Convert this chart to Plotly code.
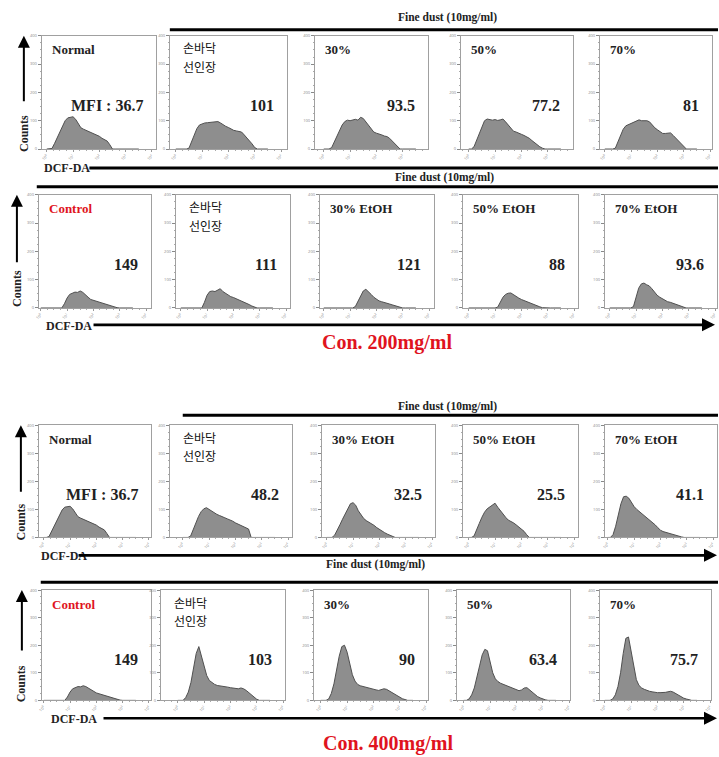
import plotly.graph_objects as go

W, H = 719, 757

# ---------------- data ----------------
# shared x grid: log10 of DCF-DA fluorescence (decades 10^0 .. 10^3.5)
LOG_GRID = [0.0, 0.1, 0.2, 0.3, 0.4, 0.5, 0.6, 0.7, 0.8, 0.9,
            1.0, 1.1, 1.2, 1.3, 1.4, 1.5, 1.6, 1.7, 1.8, 1.9,
            2.0, 2.1, 2.2, 2.3, 2.4, 2.5, 2.6, 2.7, 2.8, 2.9,
            3.0, 3.1, 3.2, 3.3, 3.4, 3.5]
DECADE_TICKS = [0, 1, 2, 3, 4]
DECADE_LABELS = ["10<sup>0</sup>", "10<sup>1</sup>", "10<sup>2</sup>", "10<sup>3</sup>", "10<sup>4</sup>"]
COUNT_TICKS = [0, 100, 200, 300, 400]

# Row 1 : Con. 200, fine dust, extracts
R1_NORMAL = [0, 0, 2, 20, 40, 60, 80, 100, 110, 113, 114, 105, 88, 75, 70, 66, 62, 58, 54, 50,
             45, 38, 33, 28, 15, 0, 0, 0, 0, 0, 0, 0, 0, 0, 0, 0]
R1_SONBADAK = [0, 0, 0, 0, 0, 3, 25, 50, 72, 85, 89, 92, 93, 94, 95, 96, 97, 92, 85, 80,
               76, 70, 66, 64, 62, 60, 50, 40, 30, 18, 5, 0, 0, 0, 0, 0]
R1_30 = [0, 0, 0, 5, 25, 45, 65, 85, 97, 102, 100, 103, 105, 102, 112, 108, 95, 85, 72, 60,
         56, 54, 50, 46, 44, 38, 28, 18, 8, 0, 0, 0, 0, 0, 0, 0]
R1_50 = [0, 0, 8, 30, 55, 80, 100, 106, 104, 102, 104, 101, 103, 106, 96, 85, 72, 63, 60, 55,
         52, 48, 44, 38, 30, 22, 14, 8, 3, 0, 0, 0, 0, 0, 0, 0]
R1_70 = [0, 0, 0, 0, 3, 25, 50, 70, 82, 86, 90, 95, 100, 103, 100, 101, 100, 96, 85, 75,
         68, 60, 55, 55, 57, 57, 48, 38, 28, 18, 8, 0, 0, 0, 0, 0]

# Row 2 : Con. 200, EtOH extracts
R2_CONTROL = [0, 0, 0, 0, 0, 0, 0, 0, 0, 15, 35, 48, 53, 56, 55, 60, 55, 48, 38, 30,
              27, 24, 21, 18, 14, 11, 8, 5, 3, 1, 0, 0, 0, 0, 0, 0]
R2_SONBADAK = [0, 0, 0, 0, 0, 0, 0, 0, 0, 20, 45, 58, 60, 58, 63, 68, 58, 52, 45, 40,
               37, 33, 30, 26, 22, 17, 12, 7, 3, 0, 0, 0, 0, 0, 0, 0]
R2_30 = [0, 0, 0, 0, 0, 0, 0, 0, 0, 0, 0, 0, 5, 25, 45, 60, 66, 58, 48, 38,
         30, 25, 22, 20, 17, 14, 11, 8, 5, 2, 0, 0, 0, 0, 0, 0]
R2_50 = [0, 0, 0, 0, 0, 0, 0, 0, 0, 0, 0, 3, 20, 38, 48, 52, 53, 46, 40, 35,
         30, 26, 22, 18, 14, 10, 7, 4, 1, 0, 0, 0, 0, 0, 0, 0]
R2_70 = [0, 0, 0, 0, 0, 0, 0, 0, 0, 5, 35, 70, 85, 88, 82, 78, 68, 55, 45, 38,
         32, 27, 22, 20, 17, 14, 10, 6, 3, 0, 0, 0, 0, 0, 0, 0]

# Row 3 : Con. 400, EtOH extracts
R3_NORMAL = [0, 0, 3, 22, 42, 62, 82, 98, 108, 110, 111, 102, 86, 74, 69, 65, 61, 57, 53, 49,
             44, 37, 32, 27, 14, 0, 0, 0, 0, 0, 0, 0, 0, 0, 0, 0]
R3_SONBADAK = [0, 0, 0, 5, 30, 55, 75, 92, 102, 106, 100, 92, 88, 82, 78, 75, 70, 66, 63, 58,
               52, 48, 42, 40, 36, 30, 0, 0, 0, 0, 0, 0, 0, 0, 0, 0]
R3_30 = [0, 0, 0, 8, 25, 45, 65, 85, 105, 120, 124, 115, 95, 80, 68, 60, 55, 50, 43, 35,
         28, 22, 17, 12, 8, 4, 0, 0, 0, 0, 0, 0, 0, 0, 0, 0]
R3_50 = [0, 0, 5, 25, 50, 72, 90, 102, 108, 115, 122, 108, 95, 82, 72, 62, 58, 52, 45, 38,
         32, 22, 10, 0, 0, 0, 0, 0, 0, 0, 0, 0, 0, 0, 0, 0]
R3_70 = [0, 0, 10, 40, 80, 120, 145, 147, 140, 125, 110, 100, 92, 85, 78, 70, 63, 55, 45, 35,
         26, 21, 18, 15, 12, 9, 6, 4, 2, 0, 0, 0, 0, 0, 0, 0]

# Row 4 : Con. 400, fine dust, extracts
R4_CONTROL = [0, 0, 0, 0, 0, 0, 0, 0, 0, 12, 30, 42, 47, 50, 49, 53, 50, 44, 36, 30,
              27, 24, 21, 17, 14, 11, 8, 5, 3, 1, 0, 0, 0, 0, 0, 0]
R4_SONBADAK = [0, 0, 0, 10, 30, 65, 120, 170, 195, 160, 118, 90, 72, 64, 58, 54, 53, 51, 50, 48,
               46, 44, 42, 42, 45, 42, 36, 28, 18, 10, 4, 0, 0, 0, 0, 0]
R4_30 = [0, 0, 0, 5, 25, 60, 110, 160, 195, 200, 175, 130, 93, 70, 58, 53, 50, 48, 45, 42,
         40, 38, 36, 38, 42, 40, 34, 28, 22, 16, 10, 6, 3, 0, 0, 0]
R4_50 = [0, 0, 5, 20, 45, 80, 125, 165, 185, 180, 140, 100, 78, 68, 62, 58, 55, 50, 45, 42,
         38, 35, 38, 45, 46, 38, 28, 20, 14, 9, 5, 2, 0, 0, 0, 0]
R4_70 = [0, 0, 0, 5, 20, 50, 100, 170, 225, 230, 180, 118, 75, 54, 45, 40, 36, 33, 31, 29,
         28, 28, 28, 29, 31, 33, 30, 24, 18, 13, 8, 5, 2, 0, 0, 0]

ROW_SERIES = [
    [R1_NORMAL, R1_SONBADAK, R1_30, R1_50, R1_70],
    [R2_CONTROL, R2_SONBADAK, R2_30, R2_50, R2_70],
    [R3_NORMAL, R3_SONBADAK, R3_30, R3_50, R3_70],
    [R4_CONTROL, R4_SONBADAK, R4_30, R4_50, R4_70],
]
ROW_NAMES = [
    ["Normal", "손바닥<br>선인장", "30%", "50%", "70%"],
    ["Control", "손바닥<br>선인장", "30% EtOH", "50% EtOH", "70% EtOH"],
    ["Normal", "손바닥<br>선인장", "30% EtOH", "50% EtOH", "70% EtOH"],
    ["Control", "손바닥<br>선인장", "30%", "50%", "70%"],
]
ROW_MFI = [
    ["MFI : 36.7", "101", "93.5", "77.2", "81"],
    ["149", "111", "121", "88", "93.6"],
    ["MFI : 36.7", "48.2", "32.5", "25.5", "41.1"],
    ["149", "103", "90", "63.4", "75.7"],
]
FINE_DUST = "Fine dust (10mg/ml)"
CONC_LABELS = ["Con. 200mg/ml", "Con. 400mg/ml"]

# ---------------- layout geometry (pixels) ----------------
PANEL_LEFT = [[38, 167, 313, 460, 600], [35, 173, 318, 462, 605],
              [35, 167, 320, 462, 605], [38, 158, 312, 456, 600]]
PANEL_RIGHT = [[153, 285, 427, 573, 713], [148, 288, 433, 578, 718],
               [148, 290, 434, 578, 718], [148, 283, 427, 570, 712]]
# pixel position of the 10^0 tick inside each panel
TICK0 = [[43, 173, 322, 468, 605], [37, 178, 322, 468, 610],
         [40, 180, 325, 468, 608], [40, 175, 319, 463, 605]]
DECADE_PX = 26.5
PANEL_TOP = [33, 193, 425, 591]
PANEL_BOTTOM = [147, 307, 538, 702]


def X(px):
    return px / W


def Y(py):
    return 1 - py / H


SERIF = "Liberation Serif, Times New Roman, serif"
KR = "Noto Sans CJK KR, sans-serif"
RED = "#e0141e"
FRAME = "#a0a0a0"

fig = go.Figure()
annotations = []
shapes = []

for r in range(4):
    for c in range(5):
        n = r * 5 + c + 1
        sfx = "" if n == 1 else str(n)
        left, right, t0 = PANEL_LEFT[r][c], PANEL_RIGHT[r][c], TICK0[r][c]
        fig.add_trace(go.Scatter(
            x=LOG_GRID, y=ROW_SERIES[r][c], mode="lines",
            line=dict(color="#505050", width=1), fill="tozeroy",
            fillcolor="#8e8e8e", xaxis="x" + sfx, yaxis="y" + sfx,
            showlegend=False, hoverinfo="skip"))
        fig.layout["xaxis" + sfx] = dict(
            domain=[X(left), X(right)],
            anchor="y" + sfx,
            range=[(left - t0) / DECADE_PX, (right - t0) / DECADE_PX],
            tickvals=DECADE_TICKS, ticktext=DECADE_LABELS,
            tickfont=dict(size=4, color="#888"), tickangle=-45,
            ticks="outside", ticklen=2, tickcolor="#999",
            minor=dict(ticks="outside", ticklen=1, dtick=0.25, tickcolor="#aaa"),
            showline=True, mirror=True, linecolor=FRAME, linewidth=1,
            showgrid=False, zeroline=False, fixedrange=True)
        fig.layout["yaxis" + sfx] = dict(
            domain=[Y(PANEL_BOTTOM[r]), Y(PANEL_TOP[r])],
            anchor="x" + sfx, range=[0, 400],
            tickvals=COUNT_TICKS, ticktext=[str(v) for v in COUNT_TICKS],
            tickfont=dict(size=4, color="#888"),
            ticks="outside", ticklen=3, tickcolor="#888",
            minor=dict(ticks="outside", ticklen=1, dtick=25, tickcolor="#aaa"),
            showline=True, mirror=True, linecolor=FRAME, linewidth=1,
            showgrid=False, zeroline=False, fixedrange=True)

        name = ROW_NAMES[r][c]
        if "<br>" in name:
            for k, part in enumerate(name.split("<br>")):
                annotations.append(dict(
                    text=part, x=X(left + 11), y=Y(PANEL_TOP[r] + 12 + 19 * k),
                    xref="paper", yref="paper", xanchor="left", yanchor="middle",
                    showarrow=False,
                    font=dict(family=KR, size=12, color="#111")))
        else:
            annotations.append(dict(
                text="<b>" + name + "</b>", x=X(left + 8),
                y=Y(PANEL_TOP[r] + 14),
                xref="paper", yref="paper", xanchor="left", yanchor="middle",
                showarrow=False,
                font=dict(family=SERIF, size=13,
                          color=RED if name == "Control" else "#222")))
        annotations.append(dict(
            text="<b>" + ROW_MFI[r][c] + "</b>", x=X(right - 11),
            y=Y(PANEL_TOP[r] + 70),
            xref="paper", yref="paper", xanchor="right", yanchor="middle",
            showarrow=False, font=dict(family=SERIF, size=16, color="#222")))

# Counts arrows and labels
COUNTS_X = [20, 13, 17, 18]
COUNTS_HEAD = [33, 193, 425, 591]
COUNTS_TAIL = [100, 262, 493, 653]
COUNTS_MID = [131, 287, 522, 685]
for r in range(4):
    annotations.append(dict(
        text="", x=X(COUNTS_X[r]), y=Y(COUNTS_HEAD[r]), xref="paper", yref="paper",
        showarrow=True, ax=0, ay=COUNTS_TAIL[r] - COUNTS_HEAD[r],
        arrowhead=2, arrowsize=1.2, arrowwidth=2, arrowcolor="#000"))
    annotations.append(dict(
        text="<b>Counts</b>", x=X(COUNTS_X[r]), y=Y(COUNTS_MID[r]),
        xref="paper", yref="paper", textangle=-90, showarrow=False,
        xanchor="center", yanchor="middle",
        font=dict(family=SERIF, size=12, color="#222")))

# DCF-DA labels and x arrows
DCF_X = [38, 40, 35, 45]
DCF_Y = [166, 325, 557, 721]
DCF_LINE_START = [86, 93, 78, 103]
DCF_LINE_END = [719, 716, 718, 718]
for r in range(4):
    annotations.append(dict(
        text="<b>DCF-DA</b>", x=X(DCF_X[r]), y=Y(DCF_Y[r]), xref="paper", yref="paper",
        xanchor="left", yanchor="middle", showarrow=False,
        font=dict(family=SERIF, size=12, color="#222")))
    if r == 0:
        shapes.append(dict(type="line", xref="paper", yref="paper",
                           x0=X(DCF_LINE_START[r]), x1=X(DCF_LINE_END[r]),
                           y0=Y(DCF_Y[r]), y1=Y(DCF_Y[r]),
                           line=dict(color="#000", width=3)))
    else:
        annotations.append(dict(
            text="", x=X(DCF_LINE_END[r]), y=Y(DCF_Y[r] - 1), xref="paper", yref="paper",
            showarrow=True, ax=-(DCF_LINE_END[r] - DCF_LINE_START[r]), ay=0,
            arrowhead=2, arrowsize=1, arrowwidth=2.6, arrowcolor="#000"))

# Fine dust brackets (top lines) and labels
FD_LINE_Y = [27, 185, 415, 583]
FD_LINE_START = [167, 33, 180, 37]
FD_LABEL_X = [447, 444, 447, 374]
FD_LABEL_Y = [15, 176, 406, 565]
for r in range(4):
    shapes.append(dict(type="line", xref="paper", yref="paper",
                       x0=X(FD_LINE_START[r]), x1=X(719),
                       y0=Y(FD_LINE_Y[r]), y1=Y(FD_LINE_Y[r]),
                       line=dict(color="#000", width=3)))
    annotations.append(dict(
        text="<b>" + FINE_DUST + "</b>", x=X(FD_LABEL_X[r]), y=Y(FD_LABEL_Y[r]),
        xref="paper", yref="paper", showarrow=False,
        xanchor="center", yanchor="middle",
        font=dict(family=SERIF, size=11.5, color="#222")))

# Concentration labels
CONC_X = [386, 387]
CONC_Y = [342, 745]
for i in range(2):
    annotations.append(dict(
        text="<b>" + CONC_LABELS[i] + "</b>", x=X(CONC_X[i]), y=Y(CONC_Y[i]),
        xref="paper", yref="paper", showarrow=False,
        xanchor="center", yanchor="middle",
        font=dict(family=SERIF, size=20, color=RED)))

fig.update_layout(
    width=W, height=H, margin=dict(l=0, r=0, t=0, b=0),
    paper_bgcolor="white", plot_bgcolor="white",
    annotations=annotations, shapes=shapes, showlegend=False)

fig.write_html("out.html", config={"displayModeBar": False},
               post_script="document.body.style.margin='0';document.body.style.padding='0';")
